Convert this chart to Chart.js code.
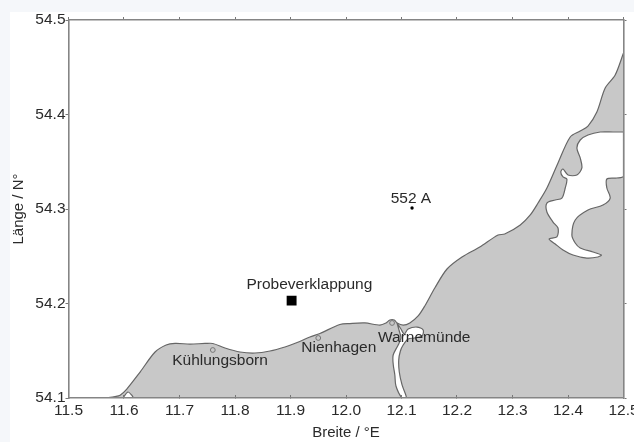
<!DOCTYPE html>
<html>
<head>
<meta charset="utf-8">
<title>Probeverklappung</title>
<script src="https://cdn.jsdelivr.net/npm/chart.js@4"></script>
<style>
    html, body { margin: 0; padding: 0; background: #f5f7fa; overflow: hidden; }
    #myChart { position: absolute; left: 10px; top: 12px; background: #fff; }
</style>
</head>
<body>
<canvas id="myChart" width="624" height="430"></canvas>
<script>
// tick values
const xTicks = [11.5, 11.6, 11.7, 11.8, 11.9, 12.0, 12.1, 12.2, 12.3, 12.4, 12.5];
const yTicks = [54.1, 54.2, 54.3, 54.4, 54.5];

// coast line, left to right
const coastLon = [11.566, 11.584, 11.593, 11.605, 11.629, 11.656, 11.676, 11.692, 11.719, 11.746, 11.760, 11.782, 11.809, 11.836, 11.863, 11.890, 11.912, 11.935, 11.953, 11.989, 12.007, 12.034, 12.061, 12.072, 12.079, 12.087, 12.092, 12.103, 12.115, 12.130, 12.142, 12.160, 12.182, 12.209, 12.241, 12.274, 12.286, 12.314, 12.332, 12.346, 12.362, 12.382, 12.404, 12.422, 12.436, 12.452, 12.467, 12.485, 12.5];
const coastLat = [54.1, 54.1016, 54.103, 54.1095, 54.1275, 54.1487, 54.1561, 54.1577, 54.1571, 54.1577, 54.1577, 54.1529, 54.1487, 54.1476, 54.1497, 54.154, 54.1587, 54.1645, 54.1683, 54.1778, 54.1788, 54.1794, 54.1772, 54.1794, 54.1825, 54.1825, 54.1794, 54.1772, 54.1794, 54.1868, 54.1974, 54.2164, 54.2365, 54.2492, 54.2598, 54.2725, 54.2735, 54.2831, 54.2937, 54.3063, 54.3222, 54.3487, 54.3762, 54.3825, 54.3878, 54.4026, 54.428, 54.4418, 54.4651];

// Saaler Bodden
const lagoonLon = [12.5, 12.481, 12.458, 12.436, 12.422, 12.416, 12.422, 12.425, 12.416, 12.400, 12.391, 12.387, 12.391, 12.398, 12.395, 12.389, 12.377, 12.362, 12.362, 12.373, 12.382, 12.380, 12.366, 12.377, 12.391, 12.409, 12.434, 12.454, 12.460, 12.445, 12.422, 12.413, 12.407, 12.413, 12.436, 12.463, 12.476, 12.470, 12.470, 12.488, 12.5];
const lagoonLat = [54.3815, 54.3815, 54.3815, 54.3783, 54.373, 54.3646, 54.354, 54.3434, 54.336, 54.336, 54.3423, 54.3392, 54.3339, 54.3317, 54.3222, 54.3116, 54.3095, 54.3063, 54.2968, 54.2862, 54.2799, 54.2704, 54.2683, 54.263, 54.2566, 54.2513, 54.2481, 54.2492, 54.2513, 54.2545, 54.2587, 54.264, 54.2725, 54.2884, 54.2989, 54.3042, 54.3116, 54.3222, 54.3317, 54.3328, 54.3349];

// Warnow
const riverLon = [12.092, 12.096, 12.099, 12.094, 12.085, 12.085, 12.088, 12.090, 12.101, 12.109, 12.101, 12.096, 12.095, 12.098, 12.103, 12.112, 12.123, 12.137, 12.139, 12.128, 12.112, 12.105, 12.099];
const riverLat = [54.1794, 54.1709, 54.1635, 54.1561, 54.1455, 54.136, 54.1243, 54.1127, 54.1, 54.1, 54.1138, 54.1275, 54.1402, 54.1497, 54.1561, 54.1624, 54.1635, 54.1656, 54.172, 54.1751, 54.173, 54.1677, 54.173];

// small pond near 11.6
const pondLon = [11.598, 11.607, 11.614, 11.617];
const pondLat = [54.1, 54.1063, 54.103, 54.1];

// towns
const townLon = [11.760, 11.950, 12.083];
const townLat = [54.1508, 54.1635, 54.1794];

// stations
const dumpLon = [11.902];
const dumpLat = [54.203];
const stationLon = [12.119];
const stationLat = [54.3011];

// text labels on the map
const labelNames = ['552 A', 'Probeverklappung', 'Kühlungsborn', 'Nienhagen', 'Warnemünde'];
const labelLon = [12.117, 11.934, 11.773, 11.987, 12.141];
const labelLat = [54.3106, 54.2196, 54.1392, 54.1529, 54.1635];

const textColor = '#2a2a2a';
const axisColor = '#858585';
const coastColor = '#666';

function toPoints(lon, lat) {
    return lon.map(function (v, i) { return { x: v, y: lat[i] }; });
}

// fills the closed shapes (lagoon, river), the line itself comes from Chart.js
const shapeFill = {
    id: 'shapeFill',
    beforeDatasetDraw: function (chart, args) {
        const ds = chart.data.datasets[args.index];
        if (!ds.shapeColor) return;
        const area = chart.chartArea;
        const ctx = chart.ctx;
        ctx.save();
        ctx.beginPath();
        ctx.rect(area.left, area.top, area.width, area.height);
        ctx.clip();
        ctx.beginPath();
        args.meta.dataset.path(ctx);
        ctx.closePath();
        ctx.fillStyle = ds.shapeColor;
        ctx.fill();
        ctx.restore();
    }
};

const mapLabels = {
    id: 'mapLabels',
    afterDatasetsDraw: function (chart) {
        const ctx = chart.ctx;
        ctx.save();
        ctx.font = '15.5px "Liberation Sans"';
        ctx.fillStyle = textColor;
        ctx.textAlign = 'center';
        ctx.textBaseline = 'middle';
        labelNames.forEach(function (name, i) {
            ctx.fillText(name, chart.scales.x.getPixelForValue(labelLon[i]), chart.scales.y.getPixelForValue(labelLat[i]));
        });
        ctx.restore();
    }
};

const lineDefaults = { showLine: true, pointRadius: 0, borderColor: coastColor, borderWidth: 1.2, tension: 0.3 };

const ctx = document.getElementById('myChart').getContext('2d');
const chart = new Chart(ctx, {
    type: 'scatter',
    data: {
        datasets: [
            { data: toPoints(dumpLon, dumpLat), pointStyle: 'rect', pointRadius: 7, backgroundColor: '#000', borderWidth: 0 },
            { data: toPoints(stationLon, stationLat), pointRadius: 1.7, backgroundColor: '#000', borderWidth: 0 },
            { data: toPoints(townLon, townLat), pointRadius: 2.4, backgroundColor: 'transparent', borderColor: '#777', borderWidth: 1 },
            Object.assign({ data: toPoints(lagoonLon.concat(lagoonLon[0]), lagoonLat.concat(lagoonLat[0])), shapeColor: '#fff' }, lineDefaults),
            Object.assign({ data: toPoints(riverLon.concat(riverLon[0]), riverLat.concat(riverLat[0])), shapeColor: '#fff' }, lineDefaults),
            Object.assign({ data: toPoints(pondLon, pondLat), shapeColor: '#fff' }, lineDefaults),
            Object.assign({ data: toPoints(coastLon, coastLat), fill: 'start', backgroundColor: '#c8c8c8' }, lineDefaults)
        ]
    },
    options: {
        responsive: false,
        animation: false,
        events: [],
        layout: { padding: 0 },
        plugins: { legend: { display: false }, tooltip: { enabled: false } },
        scales: {
            x: {
                type: 'linear', position: 'bottom', min: 11.5, max: 12.5,
                afterBuildTicks: function (scale) { scale.ticks = xTicks.map(function (v) { return { value: v }; }); },
                afterFit: function (scale) { scale.height = 44; scale.paddingLeft = 0; scale.paddingRight = 0; },
                grid: { drawOnChartArea: false, tickLength: -3, tickColor: '#777', z: 1 },
                border: { color: axisColor, width: 1.6, z: 1 },
                ticks: {
                    padding: 6, color: textColor, autoSkip: false, maxRotation: 0,
                    font: { family: 'Liberation Sans', size: 15.5 },
                    callback: function (v) { return v.toFixed(1); }
                },
                title: { display: true, text: 'Breite / °E', color: textColor, padding: 0, font: { family: 'Liberation Sans', size: 15 } }
            },
            y: {
                type: 'linear', position: 'left', min: 54.1, max: 54.5,
                afterBuildTicks: function (scale) { scale.ticks = yTicks.map(function (v) { return { value: v }; }); },
                afterFit: function (scale) { scale.width = 58.5; scale.paddingTop = 0; scale.paddingBottom = 0; },
                grid: { drawOnChartArea: false, tickLength: 3, tickColor: '#777' },
                border: { color: axisColor, width: 1.6, z: 1 },
                ticks: {
                    padding: 0, color: textColor, autoSkip: false,
                    font: { family: 'Liberation Sans', size: 15.5 },
                    callback: function (v) { return v.toFixed(1); }
                },
                title: { display: true, text: 'Länge / N°', color: textColor, padding: 0, font: { family: 'Liberation Sans', size: 15 } }
            },
            x2: {
                type: 'linear', axis: 'x', position: 'top', min: 11.5, max: 12.5,
                afterBuildTicks: function (scale) { scale.ticks = xTicks.map(function (v) { return { value: v }; }); },
                afterFit: function (scale) { scale.height = 8; scale.paddingLeft = 0; scale.paddingRight = 0; },
                grid: { drawOnChartArea: false, tickLength: 3, tickColor: '#777' },
                border: { color: axisColor, width: 1.6 },
                ticks: { display: false }
            },
            y2: {
                type: 'linear', axis: 'y', position: 'right', min: 54.1, max: 54.5,
                afterBuildTicks: function (scale) { scale.ticks = yTicks.map(function (v) { return { value: v }; }); },
                afterFit: function (scale) { scale.width = 10.5; scale.paddingTop = 0; scale.paddingBottom = 0; },
                grid: { drawOnChartArea: false, tickLength: 3, tickColor: '#777' },
                border: { color: axisColor, width: 1.6, z: 1 },
                ticks: { display: false }
            }
        }
    },
    plugins: [shapeFill, mapLabels]
});
</script>
</body>
</html>
